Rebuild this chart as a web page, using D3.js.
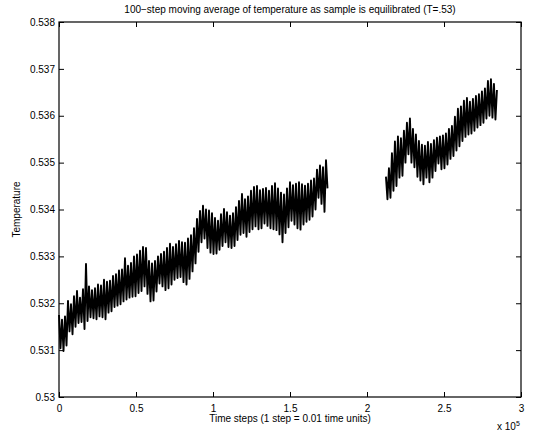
<!DOCTYPE html>
<html>
  <head>
    <meta charset="utf-8" />
    <title>100-step moving average of temperature</title>
    <script src="https://d3js.org/d3.v7.min.js"></script>
    <style>
      body { margin: 0; background: #fff; }
      svg text { font-family: "Liberation Sans", Arial, sans-serif; fill: #000; }
    </style>
  </head>
  <body>
    <svg id="chart" width="537" height="434"></svg>

    <script>
      // Data (time steps, temperature)
      // two stretches of the run, sampled every ~974 steps
      const stepSize = 974;
      const run1Start = 0;
      const run1Temp = [
        0.53175, 0.53104, 0.53165, 0.53098, 0.53172, 0.5311, 0.53205, 0.5314, 0.53198, 0.53134,
        0.53215, 0.5315, 0.53226, 0.53158, 0.53212, 0.5316, 0.5323, 0.53145, 0.53284, 0.53162,
        0.53236, 0.5317, 0.53228, 0.53168, 0.53232, 0.53166, 0.5324, 0.53172, 0.53238, 0.5317,
        0.5325, 0.53166, 0.53246, 0.5318, 0.53248, 0.53183, 0.53258, 0.53192, 0.53262, 0.53195,
        0.5327, 0.53198, 0.53272, 0.53204, 0.53296, 0.53208, 0.5328, 0.53212, 0.53286, 0.53214,
        0.533, 0.53215, 0.53304, 0.53222, 0.53312, 0.53226, 0.5332, 0.53236, 0.53318, 0.5322,
        0.5329, 0.53204, 0.53285, 0.53206, 0.5329, 0.53225, 0.533, 0.53242, 0.53305, 0.53236,
        0.5331, 0.53228, 0.53318, 0.53232, 0.53327, 0.5324, 0.5332, 0.5325, 0.53326, 0.53254,
        0.53333, 0.53256, 0.5333, 0.53245, 0.53329, 0.5324, 0.53338, 0.53252, 0.53345, 0.53268,
        0.5336, 0.53285, 0.5338, 0.5331, 0.53397, 0.5333, 0.53408, 0.53338, 0.534, 0.53318,
        0.53398, 0.53308, 0.53392, 0.53305, 0.53382, 0.53306, 0.53376, 0.53314, 0.5339, 0.53322,
        0.53401, 0.5333, 0.53394, 0.5332, 0.53387, 0.53318, 0.53392, 0.53322, 0.53405, 0.53335,
        0.53418, 0.53346, 0.53433, 0.5335, 0.53422, 0.53342, 0.53428, 0.53352, 0.5344, 0.53358,
        0.53448, 0.53364, 0.5345, 0.53358, 0.53441, 0.5336, 0.53444, 0.5337, 0.53446, 0.53365,
        0.5344, 0.5336, 0.5345, 0.53358, 0.53456, 0.53356, 0.53445, 0.53347, 0.53436, 0.5333,
        0.53432, 0.5335, 0.53445, 0.53362, 0.53458, 0.53376, 0.53452, 0.53368, 0.53455, 0.5336,
        0.53458, 0.53357, 0.53454, 0.53368, 0.53451, 0.53374, 0.53455, 0.53378, 0.53462, 0.53385,
        0.53466, 0.534, 0.53485, 0.53425, 0.53494, 0.53412, 0.5349, 0.53395, 0.53505, 0.53445
      ];
      const run2Start = 212300;
      const run2Temp = [
        0.5347, 0.53422, 0.53488, 0.53425, 0.5352, 0.5344, 0.53545, 0.5345, 0.53556, 0.53468,
        0.53552, 0.53472, 0.53568, 0.535, 0.53585, 0.53518, 0.53594, 0.535, 0.53572, 0.5349,
        0.5356, 0.5347, 0.53546, 0.53462, 0.53538, 0.53454, 0.53536, 0.53468, 0.53544, 0.53458,
        0.5354, 0.53468, 0.53548, 0.53482, 0.53553, 0.53498, 0.53556, 0.53486, 0.53558, 0.53488,
        0.53562, 0.53496, 0.53572, 0.53508, 0.53578, 0.53514, 0.53598, 0.53526, 0.53615, 0.53535,
        0.5362, 0.53546, 0.53632, 0.53555, 0.53638, 0.5356, 0.5363, 0.53562, 0.53636, 0.53568,
        0.53642, 0.53575, 0.53646, 0.5358, 0.53652, 0.53585, 0.53658, 0.53594, 0.53674, 0.536,
        0.53678, 0.53596, 0.53668, 0.53592, 0.53655
      ];

      const xTicks = [0, 50000, 100000, 150000, 200000, 250000, 300000];
      const xTickLabels = ["0", "0.5", "1", "1.5", "2", "2.5", "3"];
      const yTicks = [0.53, 0.531, 0.532, 0.533, 0.534, 0.535, 0.536, 0.537, 0.538];
      const yTickLabels = ["0.53", "0.531", "0.532", "0.533", "0.534", "0.535", "0.536", "0.537", "0.538"];

      const svg = d3.select("#chart");
      const margin = { top: 22, right: 16, bottom: 37, left: 59 };
      const width = +svg.attr("width");
      const height = +svg.attr("height");
      const plotW = width - margin.left - margin.right;
      const plotH = height - margin.top - margin.bottom;

      const x = d3.scaleLinear().domain([0, 300000]).range([0, plotW]);
      const y = d3.scaleLinear().domain([0.53, 0.538]).range([plotH, 0]);

      const g = svg.append("g")
        .attr("transform", "translate(" + margin.left + "," + margin.top + ")");

      // series lines (thick stroke so the dense zigzag reads as a band)
      const line = d3.line()
        .x((d) => x(d[0]))
        .y((d) => y(d[1]));

      const runs = [
        run1Temp.map((v, i) => [run1Start + i * stepSize, v]),
        run2Temp.map((v, i) => [run2Start + i * stepSize, v])
      ];

      g.selectAll("path.run")
        .data(runs)
        .join("path")
        .attr("class", "run")
        .attr("fill", "none")
        .attr("stroke", "#000")
        .attr("stroke-width", 1.9)
        .attr("stroke-linejoin", "round")
        .attr("d", line);

      // axes, matlab style: ticks inside on all four sides
      const tickLen = 5;
      const axisStyle = (sel) => {
        sel.select(".domain").remove();
        sel.selectAll(".tick line").attr("stroke", "#000").attr("stroke-width", 1);
        sel.selectAll(".tick text").style("font-size", "10px");
      };

      g.append("g")
        .attr("transform", "translate(0," + plotH + ")")
        .call(d3.axisBottom(x).tickValues(xTicks)
          .tickFormat((d, i) => xTickLabels[i])
          .tickSize(-tickLen).tickPadding(8))
        .call(axisStyle);

      g.append("g")
        .call(d3.axisTop(x).tickValues(xTicks).tickFormat("").tickSize(-tickLen))
        .call(axisStyle);

      g.append("g")
        .call(d3.axisLeft(y).tickValues(yTicks)
          .tickFormat((d, i) => yTickLabels[i])
          .tickSize(-tickLen).tickPadding(4))
        .call(axisStyle);

      g.append("g")
        .attr("transform", "translate(" + plotW + ",0)")
        .call(d3.axisRight(y).tickValues(yTicks).tickFormat("").tickSize(-tickLen))
        .call(axisStyle);

      g.append("rect")
        .attr("width", plotW)
        .attr("height", plotH)
        .attr("fill", "none")
        .attr("stroke", "#000")
        .attr("stroke-width", 1.2);

      // labels
      svg.append("text")
        .attr("x", margin.left + plotW / 2)
        .attr("y", 13)
        .attr("text-anchor", "middle")
        .style("font-size", "10px")
        .text("100\u2212step moving average of temperature as sample is equilibrated (T=.53)");

      svg.append("text")
        .attr("x", margin.left + plotW / 2)
        .attr("y", margin.top + plotH + 25)
        .attr("text-anchor", "middle")
        .style("font-size", "10px")
        .text("Time steps (1 step = 0.01 time units)");

      svg.append("text")
        .attr("transform", "translate(20," + (margin.top + plotH / 2) + ") rotate(-90)")
        .attr("text-anchor", "middle")
        .style("font-size", "10px")
        .text("Temperature");

      const mult = svg.append("text")
        .attr("x", 497)
        .attr("y", 430)
        .style("font-size", "10px");
      mult.append("tspan").text("x 10");
      mult.append("tspan").attr("dy", -4).style("font-size", "7px").text("5");
    </script>
  </body>
</html>
